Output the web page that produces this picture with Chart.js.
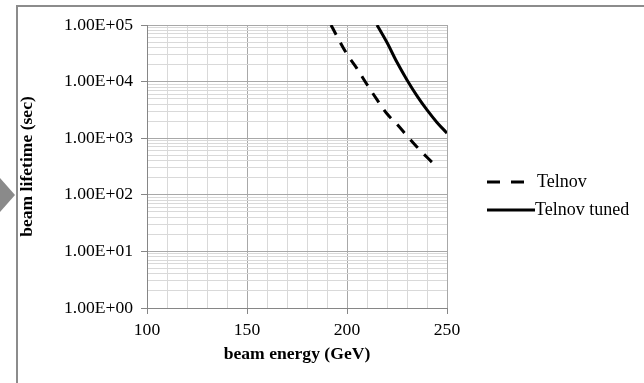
<!DOCTYPE html>
<html>
<head>
<meta charset="utf-8">
<script src="https://cdn.jsdelivr.net/npm/chart.js@4/dist/chart.umd.min.js"></script>
<style>
  html, body { margin: 0; padding: 0; background: #fff; }
  canvas { display: block; }
</style>
</head>
<body>
<canvas id="lifetime-chart" width="644" height="383"></canvas>
<script>
// values
const telnovEnergy = [192, 195, 200, 205, 210, 215, 220, 225, 230, 235, 240, 245];
const telnovLifetime = [1.0e5, 6.3e4, 3.05e4, 1.7e4, 8.9e3, 4.8e3, 2.7e3, 1.76e3, 1.1e3, 700, 460, 310];

const tunedEnergy = [215, 220, 225, 230, 235, 240, 245, 250];
const tunedLifetime = [1.0e5, 4.9e4, 2.19e4, 1.07e4, 5.6e3, 3.16e3, 1.9e3, 1.23e3];

const seriesNames = ['Telnov', 'Telnov tuned'];
const decades = [1, 10, 100, 1000, 10000, 100000];

const serif = 'Liberation Serif, Times New Roman, serif';
const fontSize = 17.6;

const toPoints = (xs, ys) => xs.map((x, i) => ({ x: x, y: ys[i] }));

const isDecade = (v) => {
  const e = Math.log10(v);
  return Math.abs(e - Math.round(e)) < 1e-9;
};

const sciLabel = (v) => {
  const exp = Math.round(Math.log10(v));
  const mant = (v / Math.pow(10, exp)).toFixed(2);
  return mant + 'E+' + String(exp).padStart(2, '0');
};

// frame, little arrow on the left, legend
const decorPlugin = {
  id: 'decor',
  beforeDraw(chart) {
    const ctx = chart.ctx;
    ctx.save();
    ctx.fillStyle = '#fff';
    ctx.fillRect(0, 0, chart.width, chart.height);
    ctx.strokeStyle = '#8c8c8c';
    ctx.lineWidth = 2;
    ctx.beginPath();
    ctx.moveTo(17, chart.height + 2);
    ctx.lineTo(17, 6);
    ctx.lineTo(chart.width + 2, 6);
    ctx.stroke();
    ctx.fillStyle = '#8a8a8a';
    ctx.beginPath();
    ctx.moveTo(0, 178);
    ctx.lineTo(15, 195);
    ctx.lineTo(0, 212);
    ctx.closePath();
    ctx.fill();
    ctx.restore();
  },
  afterDraw(chart) {
    const ctx = chart.ctx;
    const rows = [
      { y: 182, x1: 487, x2: 524, tx: 537 },
      { y: 210, x1: 487, x2: 535, tx: 535 }
    ];
    ctx.save();
    chart.data.datasets.forEach((ds, i) => {
      const r = rows[i];
      ctx.strokeStyle = ds.borderColor;
      ctx.lineWidth = ds.borderWidth;
      ctx.setLineDash(i === 0 ? [13, 11] : []);
      ctx.beginPath();
      ctx.moveTo(r.x1, r.y);
      ctx.lineTo(r.x2, r.y);
      ctx.stroke();
      ctx.setLineDash([]);
      ctx.fillStyle = '#000';
      ctx.font = '18px ' + serif;
      ctx.textBaseline = 'middle';
      ctx.textAlign = 'left';
      ctx.fillText(ds.label, r.tx, r.y);
    });
    ctx.restore();
  }
};

new Chart(document.getElementById('lifetime-chart'), {
  type: 'line',
  data: {
    datasets: [
      {
        label: seriesNames[0],
        data: toPoints(telnovEnergy, telnovLifetime),
        borderColor: '#000',
        borderWidth: 3,
        borderDash: [11, 9],
        pointRadius: 0,
        cubicInterpolationMode: 'monotone',
        fill: false
      },
      {
        label: seriesNames[1],
        data: toPoints(tunedEnergy, tunedLifetime),
        borderColor: '#000',
        borderWidth: 3,
        pointRadius: 0,
        cubicInterpolationMode: 'monotone',
        fill: false
      }
    ]
  },
  options: {
    responsive: false,
    animation: false,
    layout: { padding: { left: 16, right: 197, top: 25, bottom: 15 } },
    plugins: {
      legend: { display: false },
      tooltip: { enabled: false }
    },
    scales: {
      x: {
        type: 'linear',
        min: 100,
        max: 250,
        afterFit: (scale) => { scale.height = 60; },
        ticks: {
          stepSize: 10,
          autoSkip: false,
          maxRotation: 0,
          padding: 6,
          color: '#000',
          font: { family: serif, size: fontSize },
          callback: (v) => (v % 50 === 0 ? String(v) : '')
        },
        grid: {
          color: (c) => (c.tick && c.tick.value % 50 === 0 ? '#a8a8a8' : '#d9d9d9'),
          tickColor: (c) => (c.tick && c.tick.value % 50 === 0 ? '#868686' : 'rgba(0,0,0,0)'),
          tickLength: 6,
          lineWidth: 1
        },
        border: { color: '#868686', width: 1 },
        title: {
          display: true,
          text: 'beam energy (GeV)',
          color: '#000',
          font: { family: serif, size: fontSize, weight: 'bold' },
          padding: { top: 0, bottom: 3 }
        }
      },
      y: {
        type: 'logarithmic',
        min: 1,
        max: 100000,
        afterFit: (scale) => { scale.width = 131; },
        afterBuildTicks: (scale) => {
          const ticks = [];
          decades.forEach((d) => {
            if (d === decades[decades.length - 1]) {
              ticks.push({ value: d, major: true });
              return;
            }
            for (let k = 1; k <= 9; k++) ticks.push({ value: d * k, major: k === 1 });
          });
          scale.ticks = ticks;
        },
        ticks: {
          autoSkip: false,
          padding: 8,
          color: '#000',
          font: { family: serif, size: fontSize },
          callback: (v) => (isDecade(v) ? sciLabel(v) : '')
        },
        grid: {
          color: (c) => (c.tick && isDecade(c.tick.value) ? '#a8a8a8' : '#d9d9d9'),
          tickColor: (c) => (c.tick && isDecade(c.tick.value) ? '#868686' : 'rgba(0,0,0,0)'),
          tickLength: 6,
          lineWidth: 1
        },
        border: { color: '#868686', width: 1 },
        title: {
          display: true,
          text: 'beam lifetime (sec)',
          color: '#000',
          font: { family: serif, size: fontSize, weight: 'bold' },
          padding: { top: 1, bottom: 0 }
        }
      }
    }
  },
  plugins: [decorPlugin]
});
</script>
</body>
</html>
